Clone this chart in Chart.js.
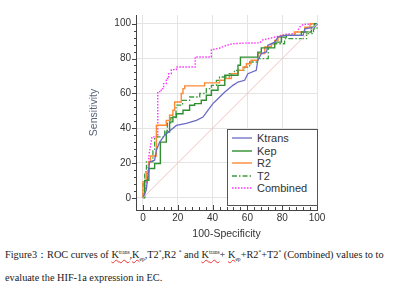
<!DOCTYPE html>
<html><head><meta charset="utf-8">
<script src="https://cdn.jsdelivr.net/npm/chart.js@4"></script>
<style>
html,body{margin:0;padding:0;background:#fff;width:400px;height:306px;overflow:hidden;}
#wrap{position:absolute;left:0;top:0;width:400px;height:240px;}
#legend{position:absolute;left:227px;top:129px;width:91px;height:77px;border:1px solid #555;background:#fff;font:11px "Liberation Sans",Arial,sans-serif;color:#333;box-sizing:border-box;padding-top:2px;z-index:2;}
.item{height:12.5px;line-height:12.5px;display:flex;align-items:center;white-space:nowrap;}
.item svg{margin-left:4px;margin-right:5px;flex:none;}
#caption{position:absolute;left:5px;top:243px;font-family:"Liberation Serif","Times New Roman",serif;font-size:10.3px;line-height:23px;color:#1a1a1a;white-space:nowrap;}
.sp{text-decoration:underline wavy #e33;text-decoration-thickness:1px;}
sup,sub{font-size:5.5px;line-height:0;}
</style></head>
<body>
<div id="wrap"><canvas id="c" width="400" height="240"></canvas></div>
<div id="legend"></div>
<div id="caption">Figure3：ROC curves of <span class="sp">K<sup>trans</sup></span>,<span class="sp">K<sub>ep</sub></span>,T2<sup>*</sup>,R2 <sup>*</sup> and <span class="sp">K<sup>trans</sup></span>+ <span class="sp">K<sub>ep</sub></span>+R2<sup>*</sup>+T2<sup>*</sup> (Combined) values to to<br>evaluate the HIF-1a expression in EC.</div>
<script>
// ---- data ----
const seriesNames = ['Ktrans','Kep','R2','T2','Combined'];
const xTicks = [0,20,40,60,80,100];
const yTicks = [0,20,40,60,80,100];

const ktransX = [0,1.9,3.8,6.7,7.7,9.6,12.5,15.3,19.2,24.9,30.7,34.5,37.4,40.2,42.2,47,51.7,54.6,58.4,60.3,65.1,66,68,71,71.8,75.7,77.6,81.4,92,93,98.7,100];
const ktransY = [0,4.4,20.6,21.6,27.3,32,36,38.4,41.6,42.7,44.5,46.4,50.3,54.1,56,60.8,64.6,66.5,67.5,71.3,73.2,79,82.8,83.8,87.6,89.4,92.3,93.3,93.3,97.1,98,100];

const kepX = [0,1,1,3.4,3.4,6.7,6.7,10,10,13.4,13.4,15.3,15.3,17.2,17.2,19.2,19.2,23,23,26.8,26.8,29.7,29.7,33.5,33.5,36.4,36.4,39.3,39.3,43.1,43.1,47,47,54.6,54.6,56,56,66,66,68,68,75.7,75.7,79.5,79.5,82.4,82.4,91,91,96.8,96.8,98.5,98.5,100];
const kepY = [0,0,10,10,16.8,16.8,19.7,19.7,32,32,37.8,37.8,43.6,43.6,46.4,46.4,48.3,48.3,50.3,50.3,53.2,53.2,54.1,54.1,56,56,58.9,58.9,61.8,61.8,64.6,64.6,70.4,70.4,76.1,76.1,80.8,80.8,83.7,83.7,86.1,86.1,89.4,89.4,92.3,92.3,93.3,93.3,95.2,95.2,98,98,100,100];

const r2X = [0,0,1.9,1.9,3.4,3.4,4.3,4.3,7.7,7.7,13.4,13.4,15.3,15.3,17.2,17.2,18.2,18.2,22,22,23,23,24,24,35.4,35.4,44,44,47,47,50.8,50.8,54.6,54.6,57.5,57.5,59.4,59.4,62.1,62.1,66,66,70,70,73.8,73.8,75.7,75.7,77.6,77.6,79.5,79.5,87,87,93,93,96,96,100];
const r2Y = [0,9.2,9.2,14.9,14.9,20.6,20.6,24,24,41.7,41.7,44.5,44.5,47.4,47.4,50.3,50.3,55,55,59.9,59.9,62.7,62.7,64.3,64.3,66,66,67.5,67.5,68.5,68.5,71.3,71.3,73.2,73.2,75.1,75.1,77,77,79,79,82.8,82.8,86.6,86.6,88.5,88.5,90.4,90.4,92.3,92.3,93.3,93.3,95.2,95.2,98,98,100,100];

const t2X = [0,0,1,1,2,2,5.7,5.7,6.7,6.7,12.5,12.5,14,14,16,16,19,19,22.8,22.8,26.8,26.8,32.6,32.6,36.4,36.4,39.3,39.3,42.2,42.2,44,44,49.6,49.6,52.6,52.6,58.4,58.4,61.3,61.3,66,66,72,72,73.8,73.8,81.4,81.4,94,94,98,98,100,100];
const t2Y = [0,8,8,14.9,14.9,20.6,20.6,27,27,35,35,38.8,38.8,43,43,46,46,53.2,53.2,56,56,57.9,57.9,59.9,59.9,62.7,62.7,64.6,64.6,67.5,67.5,69.4,69.4,71.3,71.3,73.2,73.2,75.1,75.1,78,78,80,80,86.6,86.6,88.5,88.5,91.4,91.4,94.3,94.3,97,97,100];

const combX = [0,1,2.5,3.5,5.2,8.5,8.5,10.5,10.5,11.9,11.9,13.4,13.4,14.8,14.8,16.3,16.3,19.2,19.2,30,30,39.3,39.3,44,48,51.7,59.4,67,69,74.7,79.5,82,88,90,92,100];
const combY = [0,3,10,25,35,35,61,61,62.7,62.7,65.6,65.6,68.5,68.5,71.3,71.3,73.6,73.6,75.1,75.1,80.9,80.9,85,86,87.6,88.5,88.9,89,90.8,92,93.3,94,94.3,98,99.6,100];

const refX = [0,100];
const refY = [0,100];

// ---- chart ----
function pts(xs, ys){ return xs.map((x,i)=>({x:x, y:ys[i]})); }
const seriesData = [[ktransX,ktransY],[kepX,kepY],[r2X,r2Y],[t2X,t2Y],[combX,combY]];
const seriesStyle = [
  {color:'#6b6bc6', dash:[], width:1.3},
  {color:'#2f8f2f', dash:[], width:1.4},
  {color:'#ff8a35', dash:[], width:1.4},
  {color:'#3c9a3c', dash:[5,2,1.5,2], width:1.3},
  {color:'#ff33ff', dash:[1.5,1.5], width:1.4}
];

const datasets = [{
  label:'ref', data:pts(refX,refY), borderColor:'#f2c4c4', borderWidth:1,
  pointRadius:0, showLine:true, fill:false, clip:false
}];
seriesNames.forEach((n,i)=>{
  datasets.push({
    label:n, data:pts(seriesData[i][0], seriesData[i][1]),
    borderColor:seriesStyle[i].color, borderWidth:seriesStyle[i].width,
    borderDash:seriesStyle[i].dash, pointRadius:0, showLine:true,
    fill:false, tension:0, clip:false
  });
});

const axisTicks = {
  id:'axisTicks',
  afterDraw(chart){
    const ctx = chart.ctx, a = chart.chartArea, xs = chart.scales.x, ys = chart.scales.y;
    ctx.save(); ctx.strokeStyle = '#444'; ctx.lineWidth = 1; ctx.beginPath();
    for (let v = 0; v <= 100; v += 4) {
      const major = xTicks.includes(v);
      const px = Math.round(xs.getPixelForValue(v)) + 0.5;
      ctx.moveTo(px, a.bottom); ctx.lineTo(px, a.bottom - (major ? 5 : 3));
      const py = Math.round(ys.getPixelForValue(v)) + 0.5;
      ctx.moveTo(a.left, py); ctx.lineTo(a.left - (major ? 4 : 2), py);
    }
    ctx.stroke(); ctx.restore();
  }
};

new Chart(document.getElementById('c'), {
  type:'scatter',
  data:{datasets:datasets},
  options:{
    responsive:false, animation:false, devicePixelRatio:1,
    layout:{padding:{left:88, right:83, top:15, bottom:0}},
    plugins:{legend:{display:false}, tooltip:{enabled:false}},
    scales:{
      x:{
        type:'linear', min:-4, max:100,
        afterBuildTicks(s){ s.ticks = xTicks.map(v=>({value:v})); },
        afterFit(s){ s.height = 30; },
        grid:{color:'#e4e4e4', lineWidth:1, drawTicks:false},
        border:{display:true, color:'#444', width:1},
        ticks:{padding:2, color:'#333', font:{family:'Liberation Sans', size:10}, maxRotation:0, autoSkip:false},
        title:{display:true, text:'100-Specificity', color:'#333', font:{family:'Liberation Sans', size:10.5}, padding:{top:0,bottom:0}}
      },
      y:{
        type:'linear', min:-7, max:105,
        afterBuildTicks(s){ s.ticks = yTicks.map(v=>({value:v})); },
        afterFit(s){ s.width = 48; },
        grid:{color:'#e4e4e4', lineWidth:1, drawTicks:false},
        border:{display:true, color:'#444', width:1},
        ticks:{padding:5, color:'#333', font:{family:'Liberation Sans', size:10}, autoSkip:false},
        title:{display:true, text:'Sensitivity', color:'#5a6478', font:{family:'Liberation Sans', size:10.5}, padding:{top:0,bottom:0}}
      }
    }
  },
  plugins:[axisTicks]
});

// ---- legend (HTML, built from the datasets) ----
const lg = document.getElementById('legend');
seriesNames.forEach((n,i)=>{
  const st = seriesStyle[i];
  const row = document.createElement('div'); row.className='item';
  row.innerHTML = '<svg width="20" height="4"><line x1="0" y1="2" x2="20" y2="2" stroke="'+st.color+'" stroke-width="'+st.width+'" stroke-dasharray="'+(st.dash.length?st.dash.join(','):'none')+'"/></svg><span>'+n+'</span>';
  lg.appendChild(row);
});
</script>
</body></html>
